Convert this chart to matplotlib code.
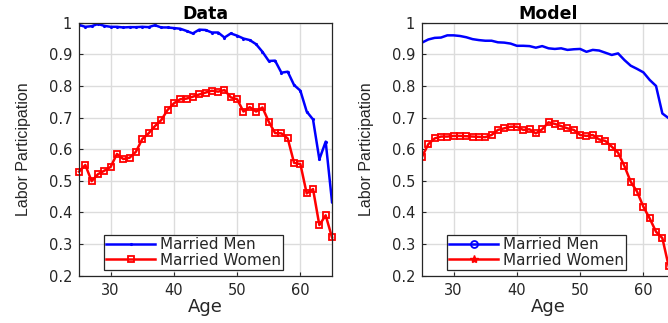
import matplotlib
matplotlib.use("Agg")
import matplotlib.pyplot as plt
from matplotlib.lines import Line2D
import numpy as np

ages_data = list(range(25, 66))
men_data = [0.993, 0.987, 0.989, 0.996, 0.990, 0.987, 0.987, 0.985, 0.986, 0.986,
            0.987, 0.986, 0.992, 0.985, 0.985, 0.983, 0.981, 0.974, 0.966, 0.978,
            0.977, 0.969, 0.969, 0.953, 0.966, 0.959, 0.950, 0.945, 0.932, 0.908,
            0.879, 0.880, 0.842, 0.845, 0.803, 0.785, 0.719, 0.694, 0.568, 0.624,
            0.434]
women_data = [0.529, 0.550, 0.499, 0.521, 0.532, 0.544, 0.585, 0.569, 0.573, 0.592,
              0.632, 0.650, 0.673, 0.692, 0.724, 0.745, 0.758, 0.760, 0.766, 0.773,
              0.779, 0.785, 0.782, 0.787, 0.764, 0.758, 0.719, 0.733, 0.719, 0.732,
              0.687, 0.651, 0.650, 0.634, 0.557, 0.553, 0.460, 0.474, 0.360, 0.391,
              0.321]

ages_model = list(range(25, 65))
men_model = [0.937, 0.947, 0.952, 0.953, 0.960, 0.960, 0.958, 0.954, 0.948, 0.945,
             0.943, 0.943, 0.938, 0.937, 0.934, 0.927, 0.927, 0.926, 0.921, 0.926,
             0.919, 0.917, 0.919, 0.914, 0.916, 0.917, 0.908, 0.914, 0.912, 0.905,
             0.898, 0.903, 0.882, 0.864, 0.854, 0.843, 0.819, 0.800, 0.713, 0.698]
women_model = [0.576, 0.616, 0.634, 0.640, 0.640, 0.642, 0.642, 0.641, 0.640, 0.639,
               0.638, 0.645, 0.661, 0.666, 0.671, 0.671, 0.661, 0.663, 0.650, 0.663,
               0.685, 0.680, 0.673, 0.666, 0.661, 0.645, 0.642, 0.645, 0.631, 0.626,
               0.608, 0.589, 0.547, 0.497, 0.466, 0.418, 0.381, 0.339, 0.319, 0.230]

titles = ["Data", "Model"]
legend_labels = ["Married Men", "Married Women"]
xticks = [30, 40, 50, 60]
yticks = [0.2, 0.3, 0.4, 0.5, 0.6, 0.7, 0.8, 0.9, 1.0]
ytick_labels = ["0.2", "0.3", "0.4", "0.5", "0.6", "0.7", "0.8", "0.9", "1"]

plt.rcParams['font.family'] = ['DejaVu Sans']

fig = plt.figure(figsize=(6.68, 3.23), dpi=100)
W, H = 668, 323
axw, axh = 253 / W, 253 / H
bottom = (H - 275.7) / H
ax1 = fig.add_axes([79 / W, bottom, axw, axh])
ax2 = fig.add_axes([422 / W, bottom, axw, axh])

spine_col = '#262626'
grid_col = '#dcdcdc'
MS = 5
MEW = 1.3
LW = 1.8

def style(ax, title):
    ax.set_xlim(25, 65)
    ax.set_ylim(0.2, 1.0)
    ax.set_xticks(xticks)
    ax.set_yticks(yticks)
    ax.set_yticklabels(ytick_labels)
    ax.grid(True, color=grid_col, linewidth=1.0)
    ax.set_axisbelow(True)
    ax.tick_params(direction='in', length=3, width=0.8, colors=spine_col,
                   labelsize=10.5, pad=5)
    for s in ax.spines.values():
        s.set_color(spine_col)
        s.set_linewidth(0.9)
    ax.set_title(title, fontsize=12.5, fontweight='bold', pad=2)
    ax.set_xlabel('Age', fontsize=13, color=spine_col, labelpad=0)
    ax.set_ylabel('Labor Participation', fontsize=11.5, color=spine_col,
                  family=['Liberation Sans', 'DejaVu Sans'])
    ax.yaxis.set_label_coords(-0.19, 0.5)

style(ax1, titles[0])
style(ax2, titles[1])

ax1.plot(ages_data, men_data, color='blue', linewidth=LW, marker='.', markersize=2.5)
ax1.plot(ages_data, women_data, color='red', linewidth=LW, marker='s', markersize=MS,
         markerfacecolor='none', markeredgewidth=MEW, clip_on=False)

ax2.plot(ages_model, men_model, color='blue', linewidth=LW)
ax2.plot(ages_model, women_model, color='red', linewidth=LW, marker='s', markersize=MS,
         markerfacecolor='none', markeredgewidth=MEW)

h1 = [Line2D([], [], color='blue', linewidth=LW, marker='.', markersize=2.5),
      Line2D([], [], color='red', linewidth=LW, marker='s', markersize=MS,
             markerfacecolor='none', markeredgewidth=MEW)]
h2 = [Line2D([], [], color='blue', linewidth=LW, marker='o', markersize=MS,
             markerfacecolor='none', markeredgewidth=MEW),
      Line2D([], [], color='red', linewidth=LW, marker='*', markersize=6)]

for ax, hs in [(ax1, h1), (ax2, h2)]:
    leg = ax.legend(hs, legend_labels, loc='lower left', bbox_to_anchor=(0.099, 0.0225),
                    borderaxespad=0, fontsize=11, handlelength=3.2, handletextpad=0.3,
                    borderpad=0.15, labelspacing=0.05, fancybox=False, framealpha=1,
                    edgecolor=spine_col)
    leg.get_frame().set_linewidth(0.9)
    for t in leg.get_texts():
        t.set_color(spine_col)

fig.savefig('out.png', dpi=100)
